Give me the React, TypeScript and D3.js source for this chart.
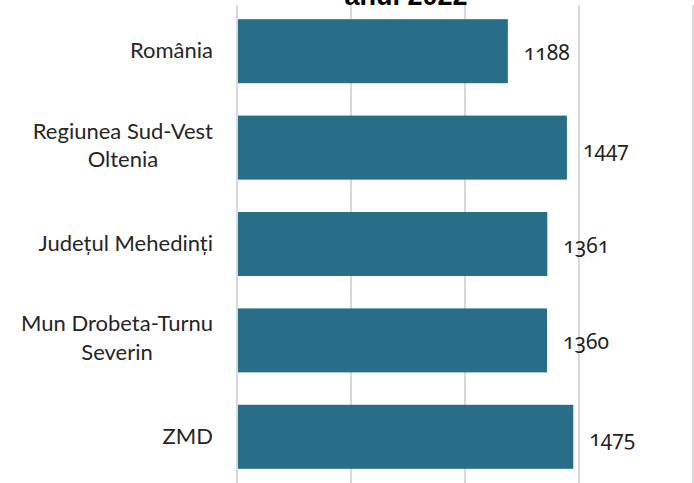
import * as d3 from 'd3';
import { useEffect, useRef } from "react";

const categories = ["România", "Regiunea Sud-Vest\nOltenia", "Județul Mehedinți", "Mun Drobeta-Turnu\nSeverin", "ZMD"];
const values = [1188, 1447, 1361, 1360, 1475];
const xTicks = [0, 500, 1000, 1500, 2000];
const titleText = "anul 2022";

const W = 694;
const H = 483;
const LABEL_RIGHT = 213;

const App = () => {
    const svgRef = useRef<SVGSVGElement>(null);

    useEffect(() => {
        const svg = d3.select(svgRef.current)
            .attr('width', W)
            .attr('height', H);

        svg.selectAll('*').remove();

        const x = d3.scaleLinear()
            .domain([0, 2000])
            .range([237, 693]);

        const y = d3.scaleBand()
            .domain(categories)
            .range([3, 485])
            .paddingInner(0.336)
            .paddingOuter(0.168);

        // gridlines
        svg.append('g')
            .selectAll('line')
            .data(xTicks)
            .enter()
            .append('line')
            .attr('x1', d => x(d))
            .attr('x2', d => x(d))
            .attr('y1', 5)
            .attr('y2', H)
            .attr('stroke', '#d9d9d9')
            .attr('stroke-width', 2);

        svg.append('g')
            .selectAll('rect')
            .data(values)
            .enter()
            .append('rect')
            .attr('x', x(0) + 1)
            .attr('y', (d, i) => y(categories[i]))
            .attr('width', d => x(d) - x(0) - 1)
            .attr('height', y.bandwidth())
            .attr('fill', '#296e89');

        // value labels
        svg.append('g')
            .selectAll('text')
            .data(values)
            .enter()
            .append('text')
            .attr('x', d => x(d) + 16)
            .attr('y', (d, i) => y(categories[i]) + y.bandwidth() / 2 + 9)
            .attr('font-family', '"Noto Sans", sans-serif')
            .attr('font-size', 21)
            .style('font-feature-settings', '"onum" 1')
            .style('font-variant-numeric', 'oldstyle-nums')
            .attr('fill', '#222')
            .text(d => d);

        // category labels: block right-aligned, lines centred within block
        const cat = svg.append('g')
            .selectAll('text')
            .data(categories)
            .enter()
            .append('text')
            .attr('text-anchor', 'middle')
            .attr('font-family', 'Lato, sans-serif')
            .attr('font-size', 22)
            .attr('fill', '#262626');

        cat.each(function (d) {
            const lines = d.split('\n');
            const t = d3.select(this);
            const cy = y(d) + y.bandwidth() / 2;
            const spans = lines.map((line, j) =>
                t.append('tspan')
                    .attr('y', lines.length === 1 ? cy + 7 : cy - 9 + j * 28.5)
                    .text(line));
            const widest = Math.max(...spans.map(s => (s.node() as SVGTextContentElement).getComputedTextLength()));
            spans.forEach(s => s.attr('x', LABEL_RIGHT - widest / 2));
        });

        svg.append('text')
            .attr('x', 406)
            .attr('y', 5)
            .attr('text-anchor', 'middle')
            .attr('font-family', '"Liberation Sans", Arial, sans-serif')
            .attr('font-weight', 'bold')
            .attr('font-size', 27)
            .attr('fill', '#000')
            .text(titleText);
    }, []);

    return (
        <div>
            <svg ref={svgRef} style={{ position: 'absolute', left: 0, top: 0, background: '#fff' }} />
        </div>
    );
}

export default App;
